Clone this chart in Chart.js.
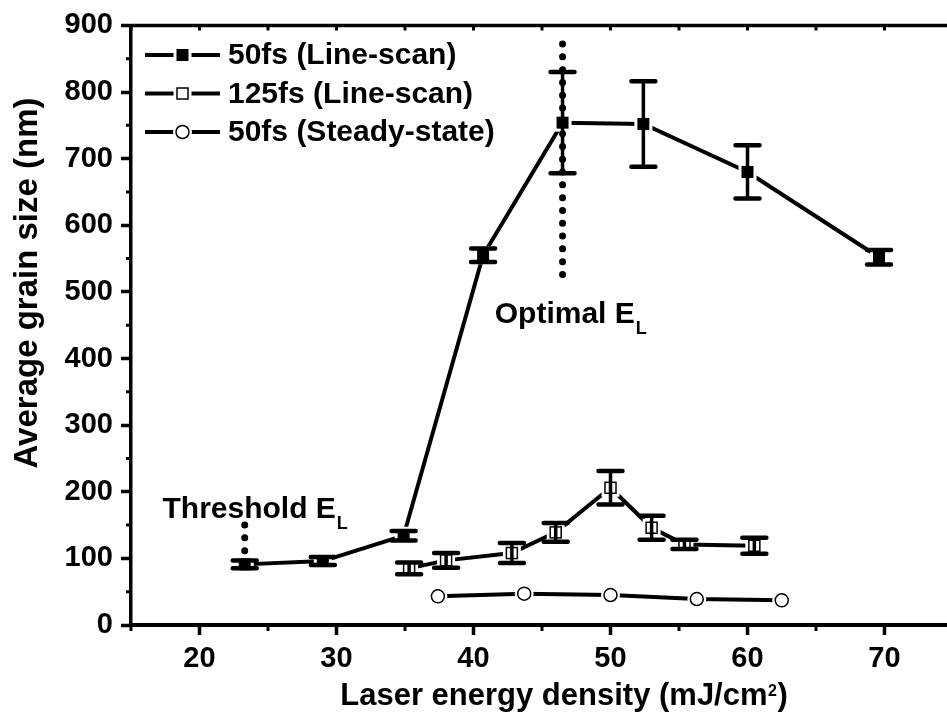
<!DOCTYPE html>
<html>
<head>
<meta charset="utf-8">
<script src="https://cdn.jsdelivr.net/npm/chart.js@4/dist/chart.umd.min.js"></script>
<style>
  html, body { margin: 0; padding: 0; background: #fff; overflow: hidden; width: 947px; height: 715px; }
  canvas { display: block; }
</style>
</head>
<body>
<canvas id="grainChart" width="960" height="715"></canvas>
<script>
// Average grain size vs. laser energy density
const seriesLabels = ['50fs (Line-scan)', '125fs (Line-scan)', '50fs (Steady-state)'];

// 50 fs pulses, line-scan
const fs50ScanX   = [23.3, 29.0, 34.9, 40.7, 46.5, 52.4, 60.0, 69.6];
const fs50ScanY   = [91, 96, 134, 555, 754, 752, 680, 552];
const fs50ScanErr = [6, 6, 7, 10, 76, 64, 40, 11];

// 125 fs pulses, line-scan
const fs125ScanX   = [35.3, 38.0, 42.8, 46.0, 50.0, 53.0, 55.4, 60.5];
const fs125ScanY   = [85, 97, 108, 139, 206, 146, 121, 119];
const fs125ScanErr = [9, 11, 15, 14, 25, 18, 7, 12];

// 50 fs pulses, steady-state
const fs50SteadyX = [37.4, 43.7, 50.0, 56.3, 62.5];
const fs50SteadyY = [43, 47, 45, 39, 37];

// Axis ticks
const xTicks = [20, 30, 40, 50, 60, 70];
const xMinorTicks = [15, 25, 35, 45, 55, 65, 75];
const yTicks = [0, 100, 200, 300, 400, 500, 600, 700, 800, 900];
const yMinorTicks = [50, 150, 250, 350, 450, 550, 650, 750, 850];

// Dotted markers for the threshold and optimal energy densities
const thresholdLine = { x: 23.3, from: 91, to: 150 };
const optimalLine   = { x: 46.5, from: 524, to: 872 };

const FONT = "'Liberation Sans', Arial, Helvetica, sans-serif";
Chart.defaults.color = '#000';
Chart.defaults.font.family = FONT;

function toPoints(xs, ys) { return xs.map((x, i) => ({ x: x, y: ys[i] })); }

// Marker shapes (halo = white backing that opens a small gap in the connecting line)
function drawMarker(ctx, type, x, y, halo) {
  ctx.save();
  if (halo) {
    ctx.fillStyle = '#fff';
    if (type === 'circle') { ctx.beginPath(); ctx.arc(x, y, 9.5, 0, Math.PI * 2); ctx.fill(); }
    else { ctx.fillRect(x - 9, y - 9, 18, 18); }
    ctx.restore();
    return;
  }
  ctx.strokeStyle = '#000';
  ctx.lineWidth = 1.5;
  if (type === 'filledSquare') {
    ctx.fillStyle = '#000';
    ctx.fillRect(x - 6, y - 6, 12, 12);
  } else if (type === 'openSquare') {
    ctx.strokeRect(x - 5.5, y - 5.5, 11, 11);
  } else {
    ctx.fillStyle = '#fff';
    ctx.beginPath(); ctx.arc(x, y, 6.5, 0, Math.PI * 2); ctx.fill(); ctx.stroke();
  }
  ctx.restore();
}

function drawDotted(ctx, x, yTop, yBottom) {
  ctx.save();
  ctx.strokeStyle = '#000';
  ctx.lineWidth = 7;
  ctx.lineCap = 'round';
  ctx.setLineDash([0, 12.8]);
  ctx.beginPath(); ctx.moveTo(x, yTop); ctx.lineTo(x, yBottom); ctx.stroke();
  ctx.restore();
}

function drawLabelWithSub(ctx, main, sub, x, y) {
  ctx.save();
  ctx.fillStyle = '#000';
  ctx.textAlign = 'left';
  ctx.textBaseline = 'alphabetic';
  ctx.font = 'bold 30px ' + FONT;
  ctx.fillText(main, x, y);
  const w = ctx.measureText(main).width;
  ctx.font = 'bold 18px ' + FONT;
  ctx.fillText(sub, x + w + 1, y + 11);
  ctx.restore();
}

const markersPlugin = {
  id: 'markersAndDecor',
  afterDatasetsDraw(chart) {
    const ctx = chart.ctx;
    const xs = chart.scales.x, ys = chart.scales.y;
    const area = chart.chartArea;

    ctx.save();
    ctx.beginPath();
    ctx.rect(area.left, area.top, area.right - area.left, area.bottom - area.top);
    ctx.clip();

    // gaps between connecting lines and markers
    chart.data.datasets.forEach((ds, i) => {
      chart.getDatasetMeta(i).data.forEach(pt => drawMarker(ctx, ds.markerType, pt.x, pt.y, true));
    });

    // error bars
    chart.data.datasets.forEach((ds, i) => {
      if (!ds.errors) return;
      chart.getDatasetMeta(i).data.forEach((pt, j) => {
        const v = ds.data[j].y, e = ds.errors[j];
        const yHi = ys.getPixelForValue(v + e), yLo = ys.getPixelForValue(v - e);
        ctx.save();
        ctx.strokeStyle = '#000';
        ctx.lineWidth = 3.5;
        ctx.beginPath(); ctx.moveTo(pt.x, yHi); ctx.lineTo(pt.x, yLo); ctx.stroke();
        ctx.lineWidth = 4.5;
        ctx.lineCap = 'round';
        ctx.beginPath();
        ctx.moveTo(pt.x - 12, yHi); ctx.lineTo(pt.x + 12, yHi);
        ctx.moveTo(pt.x - 12, yLo); ctx.lineTo(pt.x + 12, yLo);
        ctx.stroke();
        ctx.restore();
      });
    });

    // markers
    chart.data.datasets.forEach((ds, i) => {
      chart.getDatasetMeta(i).data.forEach(pt => drawMarker(ctx, ds.markerType, pt.x, pt.y, false));
    });

    // threshold / optimal energy density guides
    drawDotted(ctx, xs.getPixelForValue(thresholdLine.x), ys.getPixelForValue(thresholdLine.to), ys.getPixelForValue(thresholdLine.from));
    drawDotted(ctx, xs.getPixelForValue(optimalLine.x), ys.getPixelForValue(optimalLine.to), ys.getPixelForValue(optimalLine.from));
    ctx.restore();

    drawLabelWithSub(ctx, 'Threshold E', 'L', xs.getPixelForValue(17.3), ys.getPixelForValue(160));
    drawLabelWithSub(ctx, 'Optimal E', 'L', xs.getPixelForValue(41.55), ys.getPixelForValue(454));
  },
  afterDraw(chart) {
    const ctx = chart.ctx;
    const xs = chart.scales.x, ys = chart.scales.y;
    const area = chart.chartArea;
    ctx.save();
    ctx.strokeStyle = '#000';

    // top frame line with inward ticks
    ctx.lineWidth = 3.5;
    ctx.beginPath(); ctx.moveTo(area.left - 1.5, area.top); ctx.lineTo(area.right, area.top); ctx.stroke();
    ctx.lineWidth = 3;
    ctx.beginPath();
    xTicks.concat(xMinorTicks).forEach(v => {
      const px = xs.getPixelForValue(v);
      ctx.moveTo(px, area.top); ctx.lineTo(px, area.top + 5);
    });
    ctx.stroke();

    // minor ticks on bottom and left axes
    ctx.beginPath();
    xMinorTicks.forEach(v => {
      const px = xs.getPixelForValue(v);
      ctx.moveTo(px, area.bottom); ctx.lineTo(px, area.bottom + 6);
    });
    yMinorTicks.forEach(v => {
      const py = ys.getPixelForValue(v);
      ctx.moveTo(area.left, py); ctx.lineTo(area.left - 5, py);
    });
    ctx.stroke();

    // axis titles
    ctx.fillStyle = '#000';
    ctx.font = 'bold 33px ' + FONT;
    ctx.textAlign = 'center';
    ctx.textBaseline = 'alphabetic';
    ctx.save();
    ctx.translate(37, 283);
    ctx.rotate(-Math.PI / 2);
    ctx.fillText('Average grain size (nm)', 0, 0);
    ctx.restore();

    const mainX = 'Laser energy density (mJ/cm';
    ctx.font = 'bold 31px ' + FONT;
    const w1 = ctx.measureText(mainX).width;
    const w2 = ctx.measureText(')').width;
    ctx.font = 'bold 16px ' + FONT;
    const wSup = ctx.measureText('2').width + 1;
    const total = w1 + wSup + w2;
    const tx = 564 - total / 2;
    const baseY = 705;
    ctx.textAlign = 'left';
    ctx.font = 'bold 31px ' + FONT;
    ctx.fillText(mainX, tx, baseY);
    ctx.font = 'bold 16px ' + FONT;
    ctx.fillText('2', tx + w1 + 0.5, baseY - 9);
    ctx.font = 'bold 31px ' + FONT;
    ctx.fillText(')', tx + w1 + wSup, baseY);

    // legend
    const rowY = [55, 93.5, 132];
    chart.data.datasets.forEach((ds, i) => {
      const y = rowY[i];
      ctx.lineWidth = 4;
      ctx.lineCap = 'butt';
      ctx.beginPath(); ctx.moveTo(145, y); ctx.lineTo(220, y); ctx.stroke();
      drawMarker(ctx, ds.markerType, 182.5, y, true);
      drawMarker(ctx, ds.markerType, 182.5, y, false);
      ctx.fillStyle = '#000';
      ctx.font = 'bold 30px ' + FONT;
      ctx.textAlign = 'left';
      ctx.textBaseline = 'middle';
      ctx.fillText(ds.label, 228, y + 1);
    });
    ctx.restore();
  }
};

const lineStyle = { borderColor: '#000', borderWidth: 4, pointRadius: 0, pointHoverRadius: 0, showLine: true, fill: false, tension: 0 };

new Chart(document.getElementById('grainChart'), {
  type: 'scatter',
  data: {
    datasets: [
      Object.assign({ label: seriesLabels[0], data: toPoints(fs50ScanX, fs50ScanY), errors: fs50ScanErr, markerType: 'filledSquare' }, lineStyle),
      Object.assign({ label: seriesLabels[1], data: toPoints(fs125ScanX, fs125ScanY), errors: fs125ScanErr, markerType: 'openSquare' }, lineStyle),
      Object.assign({ label: seriesLabels[2], data: toPoints(fs50SteadyX, fs50SteadyY), markerType: 'circle' }, lineStyle)
    ]
  },
  options: {
    responsive: false,
    animation: false,
    devicePixelRatio: 1,
    layout: { padding: { top: 22, right: 7, left: 0, bottom: 0 } },
    plugins: { legend: { display: false }, tooltip: { enabled: false } },
    scales: {
      x: {
        type: 'linear', min: 15, max: 75,
        afterBuildTicks: s => { s.ticks = xTicks.map(v => ({ value: v })); },
        afterFit: s => { s.height = 90; },
        ticks: { autoSkip: false, maxRotation: 0, padding: 7, color: '#000', font: { size: 29, weight: 'bold', family: FONT } },
        grid: { drawOnChartArea: false, drawTicks: true, tickLength: 10, tickWidth: 3.5, tickColor: '#000' },
        border: { display: true, color: '#000', width: 4 }
      },
      y: {
        type: 'linear', min: 0, max: 900,
        afterBuildTicks: s => { s.ticks = yTicks.map(v => ({ value: v })); },
        afterFit: s => { s.width = 131; },
        ticks: { padding: 8, color: '#000', font: { size: 29, weight: 'bold', family: FONT } },
        grid: { drawOnChartArea: false, drawTicks: true, tickLength: 10, tickWidth: 3.5, tickColor: '#000' },
        border: { display: true, color: '#000', width: 3.5 }
      }
    }
  },
  plugins: [markersPlugin]
});
</script>
</body>
</html>
